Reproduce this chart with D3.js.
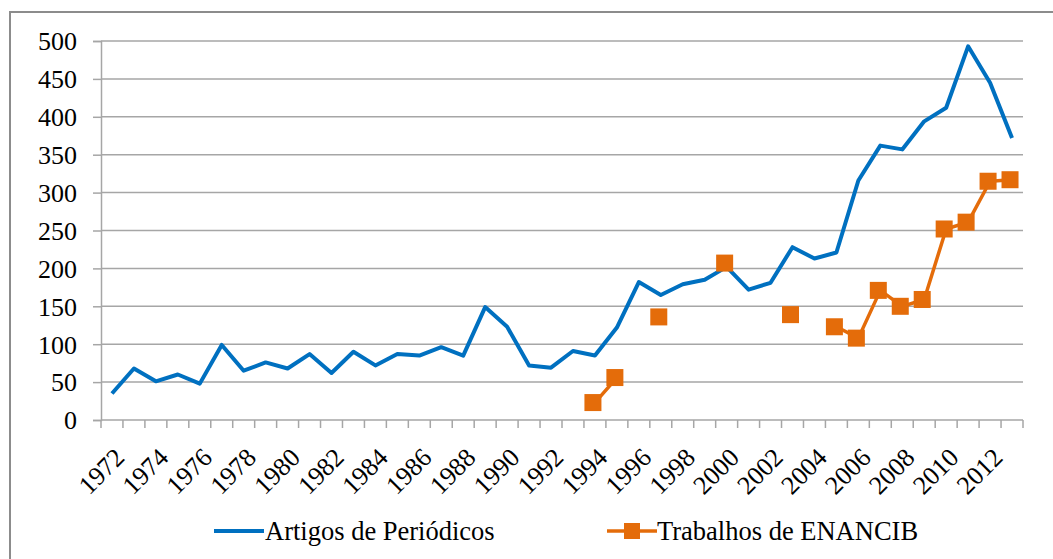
<!DOCTYPE html>
<html><head><meta charset="utf-8">
<script src="https://cdn.jsdelivr.net/npm/d3@7"></script>
<style>
html,body{margin:0;padding:0;background:#fff;}
svg{display:block;}
</style></head>
<body>
<svg id="chart" width="1053" height="559" font-family="Liberation Serif" style="font-family:'Liberation Serif'"></svg>
<script>
const years = d3.range(1972, 2014).map(String);
const artigos = [35,68,51,60,48,99,65,76,68,87,62,90,72,87,85,96,85,149,123,72,69,91,85,122,182,165,179,185,202,172,181,228,213,221,316,362,357,394,412,493,445,372];
const enancib = [null,null,null,null,null,null,null,null,null,null,null,null,null,null,null,null,null,null,null,null,null,null,23,56,null,136,null,null,207,null,null,139,null,123,108,171,150,159,252,261,315,317];
const yTicks = [0,50,100,150,200,250,300,350,400,450,500];
const seriesNames = ["Artigos de Periódicos","Trabalhos de ENANCIB"];
const colors = ["#0070C0","#E46C0A"];
const FONT = '"Liberation Serif"';

const svg = d3.select("#chart");
const L = 101, R = 1023, T = 41, B = 420;

// outer border
svg.append("rect").attr("x",10).attr("y",12).attr("width",1060).attr("height",600)
  .attr("fill","none").attr("stroke","#8c8c8c").attr("stroke-width",2);

const x = d3.scaleBand().domain(years).range([L,R]).paddingInner(0).paddingOuter(0);
const y = d3.scaleLinear().domain([0,500]).range([B,T]);

// gridlines
svg.append("g").selectAll("line").data(yTicks.filter(d=>d>0)).join("line")
  .attr("x1",L).attr("x2",R).attr("y1",d=>y(d)).attr("y2",d=>y(d))
  .attr("stroke","#a6a6a6").attr("stroke-width",1.5);

// y axis
const yAxis = svg.append("g").attr("transform",`translate(${L},0)`)
  .call(d3.axisLeft(y).tickValues(yTicks).tickSize(8).tickPadding(16));
yAxis.attr("font-family",null).attr("font-size",null);
yAxis.select(".domain").attr("stroke","#a6a6a6").attr("stroke-width",1.5);
yAxis.selectAll(".tick line").attr("stroke","#a6a6a6").attr("stroke-width",1.5);
yAxis.selectAll("text").attr("fill","#000").attr("dy","0.34em")
  .style("font-family",FONT).style("font-size","26px");

// x axis with ticks at band boundaries
const xg = svg.append("g");
xg.append("line").attr("x1",L).attr("x2",R).attr("y1",B).attr("y2",B)
  .attr("stroke","#a6a6a6").attr("stroke-width",1.5);
const bounds = years.map(d=>x(d)).concat([R]);
xg.selectAll("line.tk").data(bounds).join("line").attr("class","tk")
  .attr("x1",d=>d).attr("x2",d=>d).attr("y1",B).attr("y2",B+8)
  .attr("stroke","#a6a6a6").attr("stroke-width",1.5);
xg.selectAll("text").data(years.filter((d,i)=>i%2===0)).join("text")
  .attr("transform",d=>`translate(${x(d)+x.bandwidth()/2+14},${B+39}) rotate(-45)`)
  .attr("text-anchor","end")
  .style("font-family",FONT).style("font-size","26px")
  .attr("fill","#000").text(d=>d);

// lines
const line = d3.line().defined(d=>d.v!=null)
  .x(d=>x(d.k)+x.bandwidth()/2).y(d=>y(d.v));
const artData = years.map((k,i)=>({k,v:artigos[i]}));
const enaData = years.map((k,i)=>({k,v:enancib[i]}));
svg.append("path").datum(artData).attr("d",line).attr("fill","none")
  .attr("stroke",colors[0]).attr("stroke-width",4).attr("stroke-linejoin","round");
svg.append("path").datum(enaData).attr("d",line).attr("fill","none")
  .attr("stroke",colors[1]).attr("stroke-width",3.5).attr("stroke-linejoin","round");
const ms = 17;
svg.append("g").selectAll("rect").data(enaData.filter(d=>d.v!=null)).join("rect")
  .attr("x",d=>x(d.k)+x.bandwidth()/2-ms/2-2).attr("y",d=>y(d.v)-ms/2)
  .attr("width",ms).attr("height",ms).attr("fill",colors[1]);

// legend
const lg = svg.append("g");
const ly = 531;
lg.append("line").attr("x1",214).attr("x2",264).attr("y1",ly).attr("y2",ly)
  .attr("stroke",colors[0]).attr("stroke-width",4);
lg.append("text").attr("x",265).attr("y",540)
  .style("font-family",FONT).style("font-size","26.5px").attr("fill","#000").text(seriesNames[0]);
lg.append("line").attr("x1",607).attr("x2",657).attr("y1",ly).attr("y2",ly)
  .attr("stroke",colors[1]).attr("stroke-width",3.5);
lg.append("rect").attr("x",624).attr("y",ly-8).attr("width",16).attr("height",16).attr("fill",colors[1]);
lg.append("text").attr("x",657).attr("y",540)
  .style("font-family",FONT).style("font-size","26.5px").attr("fill","#000").text(seriesNames[1]);
</script>
</body></html>
